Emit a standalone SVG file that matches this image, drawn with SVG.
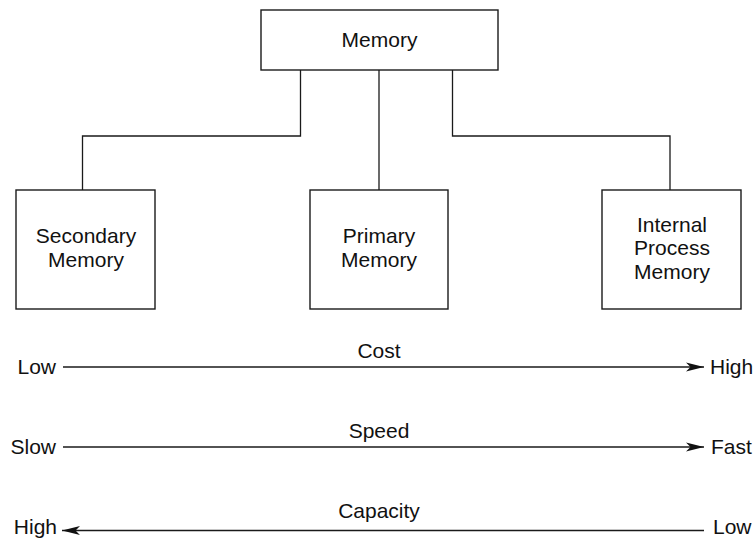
<svg xmlns="http://www.w3.org/2000/svg" width="755" height="539" viewBox="0 0 755 539">
  <style>
    .box { fill: #ffffff; stroke: #1a1a1a; stroke-width: 1.4; }
    .wire { fill: none; stroke: #1a1a1a; stroke-width: 1.3; }
    .lbl { font-family: "Liberation Sans", Arial, sans-serif; font-size: 21px; fill: #111111; }
    .mid { text-anchor: middle; }
    .end { text-anchor: end; }
  </style>
  <defs>
    <marker id="head" viewBox="0 0 19 10" refX="18" refY="5" markerWidth="19" markerHeight="10" markerUnits="userSpaceOnUse" orient="auto-start-reverse">
      <path d="M0,0.5 L18,5 L0,9.5 L4.5,5 Z" fill="#111111"/>
    </marker>
  </defs>
  <rect width="755" height="539" fill="#ffffff"/>

  <!-- tree connectors -->
  <g id="connectors">
    <polyline class="wire" points="300.5,70 300.5,136 82.5,136 82.5,190"/>
    <line class="wire" x1="379" y1="70" x2="379" y2="190"/>
    <polyline class="wire" points="452.5,70 452.5,136 670,136 670,190"/>
  </g>

  <g id="memory">
    <rect class="box" x="261" y="10" width="237" height="60"/>
    <text class="lbl mid" x="379.5" y="47">Memory</text>
  </g>

  <g id="secondary">
    <rect class="box" x="16" y="190" width="139" height="119"/>
    <text class="lbl mid" x="86" y="243">Secondary</text>
    <text class="lbl mid" x="86" y="267">Memory</text>
  </g>

  <g id="primary">
    <rect class="box" x="310" y="190" width="138" height="119"/>
    <text class="lbl mid" x="379" y="243">Primary</text>
    <text class="lbl mid" x="379" y="267">Memory</text>
  </g>

  <g id="internal">
    <rect class="box" x="602" y="190" width="139" height="119"/>
    <text class="lbl mid" x="672" y="232">Internal</text>
    <text class="lbl mid" x="672" y="255">Process</text>
    <text class="lbl mid" x="672" y="279">Memory</text>
  </g>

  <!-- scales -->
  <g id="cost">
    <line class="wire" x1="63" y1="367" x2="704" y2="367" marker-end="url(#head)"/>
    <text class="lbl end" x="56" y="374">Low</text>
    <text class="lbl mid" x="379" y="358">Cost</text>
    <text class="lbl" x="710" y="374">High</text>
  </g>

  <g id="speed">
    <line class="wire" x1="63" y1="447" x2="704" y2="447" marker-end="url(#head)"/>
    <text class="lbl end" x="56" y="454">Slow</text>
    <text class="lbl mid" x="379" y="438">Speed</text>
    <text class="lbl" x="711" y="454">Fast</text>
  </g>

  <g id="capacity">
    <line class="wire" x1="62" y1="530.5" x2="704" y2="530.5" marker-start="url(#head)"/>
    <text class="lbl end" x="57" y="534">High</text>
    <text class="lbl mid" x="379" y="518">Capacity</text>
    <text class="lbl" x="713" y="534">Low</text>
  </g>
</svg>
